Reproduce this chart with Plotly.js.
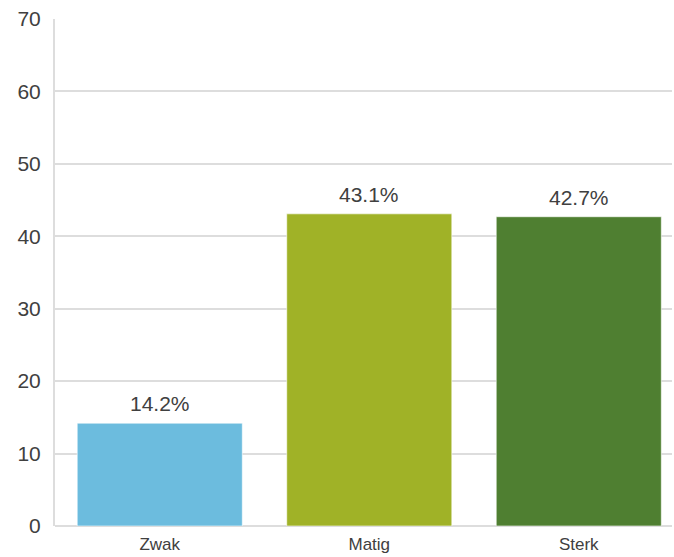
<!DOCTYPE html>
<html>
<head>
<meta charset="utf-8">
<script src="https://cdn.plot.ly/plotly-3.0.1.min.js"></script>
<style>html,body{margin:0;padding:0;background:#fff;}#chart{width:674px;height:557px;}</style>
</head>
<body>
<div id="chart"></div>
<script>
const categories = ["Zwak", "Matig", "Sterk"];
const values = [14.2, 43.1, 42.7];
const labels = ["14.2%", "43.1%", "42.7%"];
const colors = ["#6cbcde", "#a0b227", "#4f7f31"];
const yTicks = [0, 10, 20, 30, 40, 50, 60, 70];

const FONT = "Liberation Sans, Arial, sans-serif";

const trace = {
  type: "bar",
  x: categories,
  y: values,
  marker: {color: colors, line: {color: "rgba(255,255,255,0.6)", width: 1}},
  hoverinfo: "none"
};

const annotations = categories.map((c, i) => ({
  x: c, y: values[i], xref: "x", yref: "y",
  text: labels[i], showarrow: false,
  yanchor: "bottom", yshift: 6,
  font: {family: FONT, size: 21, color: "#404040"}
}));

const layout = {
  width: 674, height: 557,
  margin: {l: 55, r: 2, t: 19, b: 31},
  paper_bgcolor: "#fff", plot_bgcolor: "#fff",
  bargap: 0.212,
  showlegend: false,
  font: {family: FONT, color: "#404040"},
  annotations: annotations,
  xaxis: {
    range: [-0.5, 2.445],
    showgrid: false, showline: false, ticks: "",
    ticklabelstandoff: 6,
    tickfont: {size: 17, color: "#404040"},
    zeroline: false
  },
  yaxis: {
    range: [0, 70], tickvals: yTicks, ticktext: yTicks.map(String),
    showgrid: true, gridcolor: "#dddddd", gridwidth: 2,
    zeroline: true, zerolinecolor: "#dddddd", zerolinewidth: 2,
    showline: true, linecolor: "#dddddd", linewidth: 2,
    ticks: "", ticklabelstandoff: 8,
    tickfont: {size: 21, color: "#404040"}
  }
};

Plotly.newPlot("chart", [trace], layout, {displayModeBar: false, staticPlot: true});
</script>
</body>
</html>
